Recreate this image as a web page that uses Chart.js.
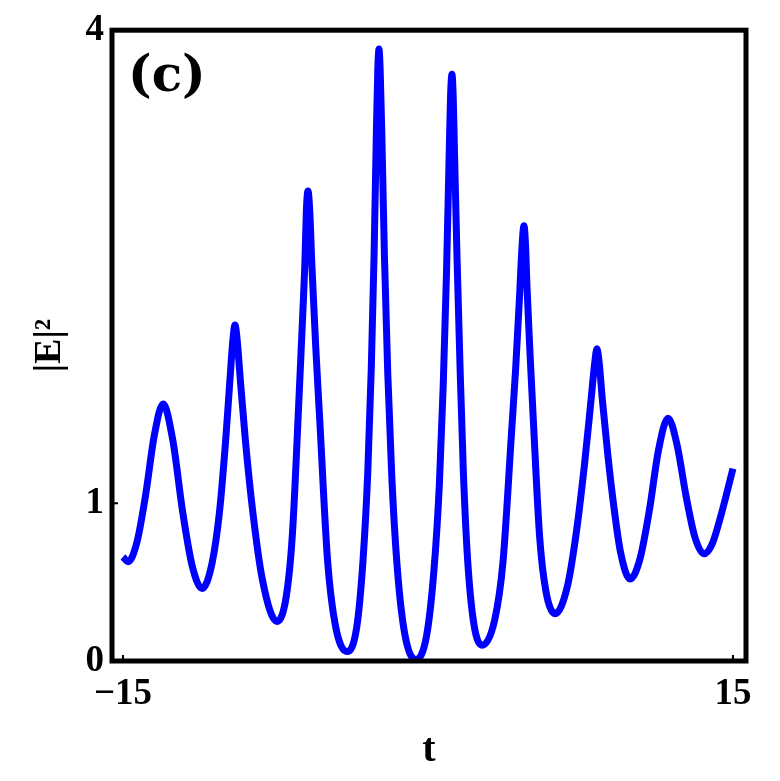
<!DOCTYPE html>
<html><head><meta charset="utf-8">
<script src="https://cdn.jsdelivr.net/npm/chart.js@4.4.0/dist/chart.umd.min.js"></script>
<style>html,body{margin:0;padding:0;background:#fff;}</style>
</head><body>
<canvas id="c" width="780" height="781"></canvas>
<script>
// t values (horizontal)
const tValues = [
  -15, -14.75, -14.32, -13.89, -13.46, -13.03, -12.55, -12.07, -11.59, -11.11,
  -10.62, -10.25, -9.95, -9.72, -9.60, -9.49, -9.38, -9.24, -8.98, -8.62, -8.15, -7.43,
  -6.97, -6.67, -6.36, -6.21, -6.05, -5.98, -5.90, -5.81, -5.71, -5.52, -5.32, -4.94, -4.56, -3.98,
  -3.51, -3.20, -2.96, -2.79, -2.65, -2.54, -2.47, -2.41, -2.35, -2.27, -2.14, -1.98, -1.78, -1.51, -1.14, -0.60,
  -0.07, 0.29, 0.56, 0.75, 0.91, 1.04, 1.11, 1.18, 1.24, 1.30, 1.43, 1.58, 1.74, 1.95, 2.25, 2.66,
  3.28, 3.69, 4.10, 4.31, 4.51, 4.63, 4.72, 4.80, 4.87, 5.03, 5.18, 5.49, 5.79, 6.25,
  6.85, 7.30, 7.70, 8.00, 8.20, 8.31, 8.42, 8.58, 8.85, 9.15, 9.47, 9.94,
  10.41, 10.88, 11.34, 11.81, 12.25, 12.70, 13.14, 13.58, 13.97, 14.36, 15.00
];
// |E|^2 values
const intensity = [
  0.66, 0.63, 0.75, 1.05, 1.43, 1.63, 1.40, 0.95, 0.60, 0.46,
  0.62, 0.95, 1.40, 1.82, 2.03, 2.13, 2.03, 1.80, 1.40, 0.95, 0.52, 0.25,
  0.41, 0.80, 1.62, 2.05, 2.54, 2.86, 2.98, 2.84, 2.51, 1.99, 1.52, 0.64, 0.23, 0.06,
  0.21, 0.63, 1.20, 1.85, 2.58, 3.34, 3.74, 3.88, 3.74, 3.34, 2.56, 1.83, 1.17, 0.59, 0.17, 0.01,
  0.16, 0.57, 1.12, 1.75, 2.46, 3.20, 3.58, 3.72, 3.58, 3.25, 2.55, 1.85, 1.20, 0.64, 0.24, 0.10,
  0.26, 0.63, 1.43, 1.85, 2.33, 2.64, 2.76, 2.63, 2.37, 1.92, 1.53, 0.79, 0.45, 0.30,
  0.47, 0.82, 1.25, 1.63, 1.89, 1.98, 1.89, 1.65, 1.30, 0.97, 0.69, 0.52,
  0.64, 0.95, 1.34, 1.54, 1.37, 1.04, 0.78, 0.68, 0.74, 0.90, 1.22
];
const xTicks = [-15, 15];
const yTicks = [0, 1, 4];
const xLabel = 't';
const yLabel = '|E|\u00B2';
const panelLabel = '(c)';

const points = tValues.map((t, i) => ({x: t, y: intensity[i]}));
const tickFont = {family: 'Liberation Serif', weight: 'bold', size: 37};

const framePlugin = {
  id: 'frame',
  afterDatasetsDraw(chart) {
    const {ctx, chartArea: a, scales} = chart;
    ctx.save();
    ctx.strokeStyle = '#000';
    ctx.lineWidth = 5;
    ctx.strokeRect(a.left, a.top, a.right - a.left, a.bottom - a.top);
    ctx.lineWidth = 2;
    ctx.beginPath();
    xTicks.forEach(v => {
      const px = scales.x.getPixelForValue(v);
      ctx.moveTo(px, a.bottom); ctx.lineTo(px, a.bottom - 6);
    });
    yTicks.forEach(v => {
      const py = scales.y.getPixelForValue(v);
      ctx.moveTo(a.left, py); ctx.lineTo(a.left + 6, py);
    });
    ctx.stroke();
    ctx.fillStyle = '#000';
    ctx.font = 'bold 50px "DejaVu Serif"';
    ctx.textAlign = 'left';
    ctx.textBaseline = 'middle';
    ctx.fillText(panelLabel, a.left + 16, a.top + 48);
    ctx.restore();
  }
};

new Chart(document.getElementById('c'), {
  type: 'scatter',
  data: {
    datasets: [{
      data: points,
      showLine: true,
      borderColor: '#0000FF',
      borderWidth: 7,
      pointRadius: 0,
      cubicInterpolationMode: 'monotone',
      fill: false,
      clip: false
    }]
  },
  options: {
    responsive: false,
    animation: false,
    devicePixelRatio: 1,
    layout: {padding: {top: 27, right: 34, left: 0, bottom: 0}},
    plugins: {legend: {display: false}, tooltip: {enabled: false}},
    scales: {
      x: {
        type: 'linear', min: -15.54, max: 15.64,
        afterBuildTicks: s => { s.ticks = xTicks.map(v => ({value: v})); },
        afterFit: s => { s.height = 120; },
        ticks: {
          callback: v => v < 0 ? '\u2212' + Math.abs(v) : String(v),
          font: tickFont, color: '#000', padding: 11, maxRotation: 0, autoSkip: false
        },
        grid: {display: false, drawTicks: false},
        border: {display: false},
        title: {display: true, text: xLabel, color: '#000',
          font: {family: 'Liberation Serif', weight: 'bold', size: 40},
          padding: {top: 0, bottom: 6}}
      },
      y: {
        type: 'linear', min: 0, max: 4,
        afterBuildTicks: s => { s.ticks = yTicks.map(v => ({value: v})); },
        afterFit: s => { s.width = 112; },
        ticks: {font: tickFont, color: '#000', padding: 8, autoSkip: false},
        grid: {display: false, drawTicks: false},
        border: {display: false},
        title: {display: true, text: yLabel, color: '#000',
          font: {family: 'Liberation Serif', weight: 'bold', size: 38},
          padding: {top: 27, bottom: 0}}
      }
    }
  },
  plugins: [framePlugin]
});
</script>
</body></html>
